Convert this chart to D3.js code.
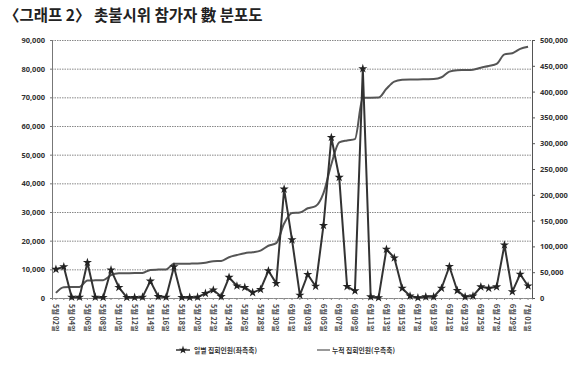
<!DOCTYPE html>
<html><head><meta charset="utf-8">
<script src="https://cdn.jsdelivr.net/npm/d3@7"></script>
<style>body{margin:0;background:#fff}svg{display:block}</style>
</head><body>
<svg id="c" width="580" height="368"></svg>
<script>
const title = "〈그래프 2〉 촛불시위 참가자 數 분포도";
const dates = [
 "5월 02일","5월 03일","5월 04일","5월 05일","5월 06일","5월 07일","5월 08일","5월 09일","5월 10일","5월 11일",
 "5월 12일","5월 13일","5월 14일","5월 15일","5월 16일","5월 17일","5월 18일","5월 19일","5월 20일","5월 21일",
 "5월 22일","5월 23일","5월 24일","5월 25일","5월 26일","5월 27일","5월 28일","5월 29일","5월 30일","5월 31일",
 "6월 01일","6월 02일","6월 03일","6월 04일","6월 05일","6월 06일","6월 07일","6월 08일","6월 09일","6월 10일",
 "6월 11일","6월 12일","6월 13일","6월 14일","6월 15일","6월 16일","6월 17일","6월 18일","6월 19일","6월 20일",
 "6월 21일","6월 22일","6월 23일","6월 24일","6월 25일","6월 26일","6월 27일","6월 28일","6월 29일","6월 30일",
 "7월 01일"];
const daily = [
 10000,10900,300,300,12400,300,200,9800,3700,200,
 200,300,5900,500,300,10900,200,200,300,1600,
 2800,500,7200,4200,3700,1900,3000,9500,5100,38000,
 20300,1000,8200,4100,25300,56000,42100,4000,2500,80000,
 400,100,17000,14000,3400,700,100,400,400,3400,
 11000,2600,400,700,3900,3400,3900,18500,2200,8300,
 4200];
const cumulative = [
 10000,20900,21200,21500,33900,34200,34400,44200,47900,48100,
 48300,48600,54500,55000,55300,66200,66400,66600,66900,68500,
 71300,71800,79000,83200,86900,88800,91800,101300,106400,144400,
 164700,165700,173900,178000,203300,259300,301400,305400,307900,387900,
 388300,388400,405400,419400,422800,423500,423600,424000,424400,427800,
 438800,441400,441800,442500,446400,449800,453700,472200,474400,482700,
 486900];
const leftTicks = [0,10000,20000,30000,40000,50000,60000,70000,80000,90000];
const rightTicks = [0,50000,100000,150000,200000,250000,300000,350000,400000,450000,500000];
const legendLabels = ["일별 집회인원(좌측축)", "누적 집회인원(우측축)"];

const svg = d3.select("#c");
const F = "'Noto Sans','Noto Sans CJK KR',sans-serif";
const m = {l:52, r:532, t:40, b:298};
const x = d3.scaleBand().domain(d3.range(dates.length)).range([m.l, m.r]);
const cx = i => x(i) + x.bandwidth()/2;
const yL = d3.scaleLinear().domain([0, 90000]).range([m.b, m.t]);
const yR = d3.scaleLinear().domain([0, 500000]).range([m.b, m.t]);

// title
svg.append("text").attr("x", 4).attr("y", 21)
  .attr("font-family", "'Noto Sans CJK KR',sans-serif").attr("font-weight", 700)
  .attr("font-size", 15.5).attr("fill", "#222").text(title);

// gridlines
const grid = svg.append("g").attr("transform", `translate(${m.l},0)`)
  .call(d3.axisLeft(yL).tickValues(leftTicks).tickSize(-(m.r - m.l)).tickFormat(""));
grid.select(".domain").remove();
grid.selectAll("line").attr("stroke", "#888").attr("stroke-width", 1).attr("stroke-dasharray", "1.5,1");

// left axis
const la = svg.append("g").attr("transform", `translate(${m.l},0)`)
  .call(d3.axisLeft(yL).tickValues(leftTicks).tickSize(2).tickPadding(5).tickFormat(d3.format(",")));
la.select(".domain").attr("stroke", "#777");
la.selectAll("line").attr("stroke", "#777");
la.selectAll("text").attr("font-family", F).attr("font-size", 7.5).attr("font-weight", 700).attr("fill", "#333");

// right axis
const ra = svg.append("g").attr("transform", `translate(${m.r},0)`)
  .call(d3.axisRight(yR).tickValues(rightTicks).tickSize(3).tickPadding(5).tickFormat(d3.format(",")));
ra.select(".domain").attr("stroke", "#555");
ra.selectAll("line").attr("stroke", "#555");
ra.selectAll("text").attr("font-family", F).attr("font-size", 7.5).attr("font-weight", 700).attr("fill", "#333");

// bottom axis
const ba = svg.append("g").attr("transform", `translate(0,${m.b})`)
  .call(d3.axisBottom(x).tickValues(x.domain()).tickSize(2).tickFormat(""));
ba.select(".domain").attr("stroke", "#888").attr("stroke-dasharray", "1.5,1");
ba.selectAll("line").attr("stroke", "#888");

// x labels (every other day)
svg.append("g").selectAll("text").data(dates.map((d,i)=>[d,i]).filter(d => d[1] % 2 === 0))
  .join("text")
  .attr("transform", d => `translate(${cx(d[1]) - 2.8},304) rotate(90)`)
  .attr("font-family", "'Noto Sans CJK KR',sans-serif").attr("font-size", 7.2).attr("font-weight", 700)
  .attr("fill", "#444").attr("text-anchor", "start").text(d => d[0]);

// cumulative line (right axis)
svg.append("path").datum(cumulative)
  .attr("fill", "none").attr("stroke", "#555").attr("stroke-width", 2)
  .attr("d", d3.line().x((d,i)=>cx(i)).y(d=>yR(d)).curve(d3.curveMonotoneX));

// daily line (left axis)
svg.append("path").datum(daily)
  .attr("fill", "none").attr("stroke", "#333").attr("stroke-width", 2)
  .attr("stroke-linejoin", "round")
  .attr("d", d3.line().x((d,i)=>cx(i)).y(d=>yL(d)));
svg.append("g").selectAll("path").data(daily).join("path")
  .attr("transform", (d,i)=>`translate(${cx(i)},${yL(d)})`)
  .attr("d", d3.symbol().type(d3.symbolStar).size(26))
  .attr("fill", "#222");

// legend
const lg = svg.append("g").attr("font-family", "'Noto Sans CJK KR',sans-serif").attr("font-size", 6.8).attr("font-weight", 700).attr("fill", "#333");
lg.append("line").attr("x1", 176).attr("x2", 190).attr("y1", 350).attr("y2", 350).attr("stroke", "#333").attr("stroke-width", 1.5);
lg.append("path").attr("transform", "translate(183,350)").attr("d", d3.symbol().type(d3.symbolStar).size(22)).attr("fill", "#222");
lg.append("text").attr("x", 194).attr("y", 352.5).text(legendLabels[0]);
lg.append("line").attr("x1", 317).attr("x2", 330).attr("y1", 350).attr("y2", 350).attr("stroke", "#555").attr("stroke-width", 1.2);
lg.append("text").attr("x", 332).attr("y", 352.5).text(legendLabels[1]);
</script>
</body></html>
